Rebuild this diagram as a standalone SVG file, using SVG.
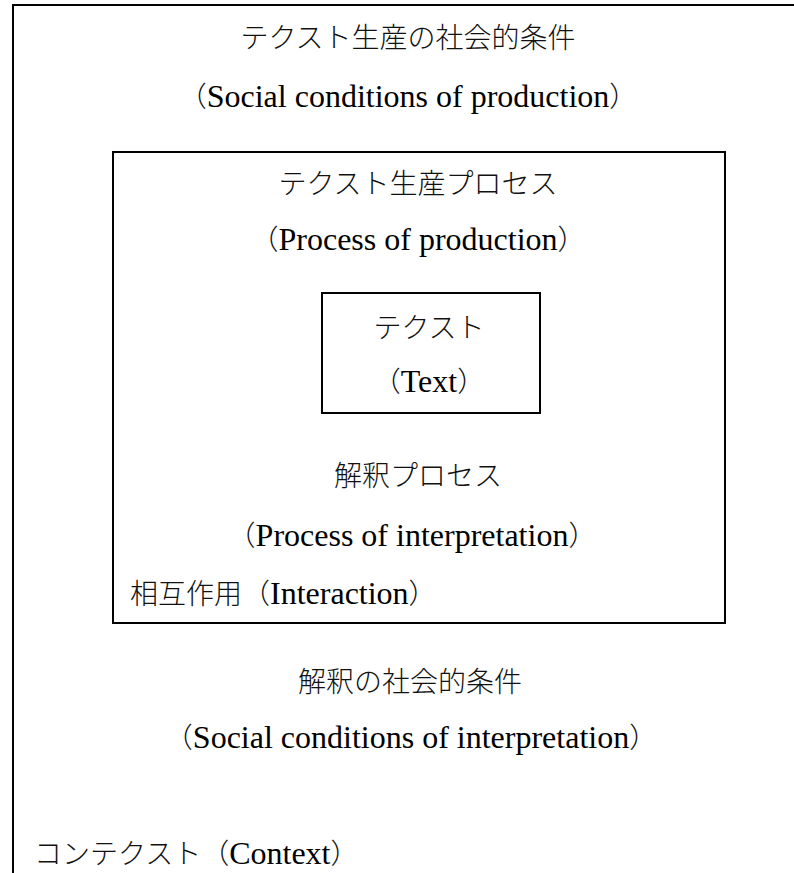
<svg xmlns="http://www.w3.org/2000/svg" width="794" height="873" viewBox="0 0 794 873">
<style>
.box{fill:none;stroke:#000;stroke-width:2}
.jp{font-family:"Noto Sans CJK JP","Noto Sans CJK SC",sans-serif;font-size:28px;fill:#111;font-weight:300}
.en{font-family:"Liberation Serif","Noto Sans CJK JP",serif;font-size:32px;fill:#000;font-weight:400}
.c{text-anchor:middle}
</style>
<rect x="0" y="0" width="794" height="873" fill="#fff"/>
<g id="context">
<path class="box" d="M13,880 V5 H800"/>
<text class="jp c" x="408" y="48">テクスト生産の社会的条件</text>
<text class="jp c" x="408" y="107">（<tspan class="en">Social conditions of production</tspan>）</text>
<text class="jp c" x="410" y="692">解釈の社会的条件</text>
<text class="jp c" x="411" y="748">（<tspan class="en">Social conditions of interpretation</tspan>）</text>
<text class="jp" x="34" y="864">コンテクスト（<tspan class="en">Context</tspan>）</text>
</g>
<g id="interaction">
<rect class="box" x="113" y="152" width="612" height="471"/>
<text class="jp c" x="418" y="194">テクスト生産プロセス</text>
<text class="jp c" x="418" y="250">（<tspan class="en">Process of production</tspan>）</text>
<text class="jp c" x="418" y="486">解釈プロセス</text>
<text class="jp c" x="412" y="546">（<tspan class="en">Process of interpretation</tspan>）</text>
<text class="jp" x="130" y="604">相互作用（<tspan class="en">Interaction</tspan>）</text>
</g>
<g id="text">
<rect class="box" x="322" y="293" width="218" height="120"/>
<text class="jp c" x="429" y="338">テクスト</text>
<text class="jp c" x="429" y="392">（<tspan class="en">Text</tspan>）</text>
</g>
<g id="connectors"/>
</svg>
